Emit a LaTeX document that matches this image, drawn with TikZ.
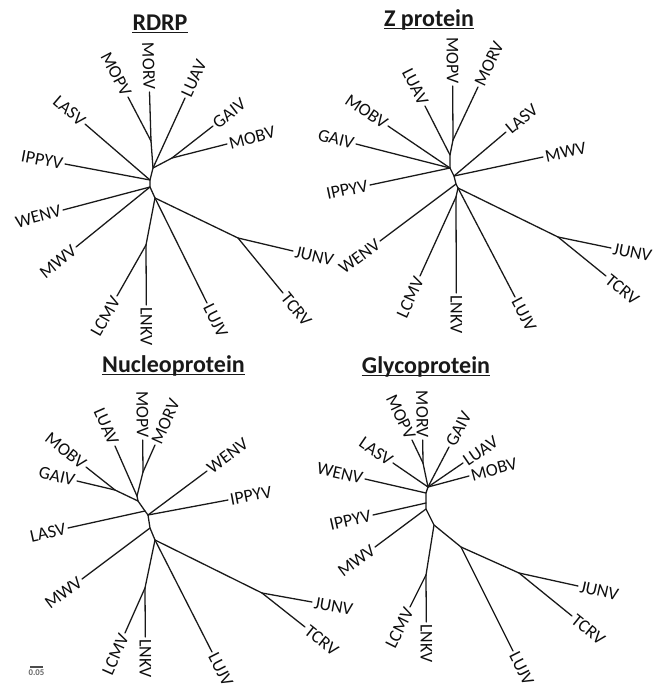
\documentclass[tikz,border=0pt]{standalone}
\usepackage{fontspec}
\setmainfont{Carlito}
\usepackage{tikz}

\newcommand{\labfont}{\fontsize{15.3}{17}\selectfont}
\newcommand{\ttlfont}{\fontsize{20.5}{23}\selectfont\bfseries}

\tikzset{
  branch/.style={line width=1.1pt, line join=round, line cap=round, black!90},
  lab/.style={pos=1, sloped, inner sep=1.5pt, text depth=0pt, font=\labfont, text=black!95},
  labR/.style={lab, anchor=west},
  labL/.style={lab, anchor=east},
  ttl/.style={anchor=base, inner sep=0pt, font=\ttlfont, text=black!90},
  uline/.style={line width=1.1pt, black!90},
}

\begin{document}
\begin{tikzpicture}[x=0.03cm, y=-0.03cm]
\useasboundingbox (0,0) rectangle (653,689);

% RDRP
\node[ttl] (tR) at (160,30) {RDRP};
\draw[uline] ([yshift=-2pt]tR.base west) -- ([yshift=-2pt]tR.base east);
\coordinate (r0) at (151,141);
\coordinate (r1) at (153,168);
\coordinate (rg) at (172,158);
\coordinate (r2) at (150,180);
\coordinate (r3) at (150,187);
\coordinate (r4) at (155,198);
\coordinate (rl) at (146,245);
\coordinate (rj) at (238,238);
\coordinate (rMORV) at (149.5,92);
\coordinate (rMOPV) at (128,97);
\coordinate (rLUAV) at (185,98);
\coordinate (rGAIV) at (213,126);
\coordinate (rMOBV) at (227,144);
\coordinate (rLASV) at (85,124);
\coordinate (rIPPYV) at (65,164);
\coordinate (rWENV) at (63,210);
\coordinate (rMWV) at (76,247);
\coordinate (rLCMV) at (117,296);
\coordinate (rLNKV) at (146.3,305);
\coordinate (rLUJV) at (207,303);
\coordinate (rJUNV) at (293,251);
\coordinate (rTCRV) at (283,293);
\draw[branch] (r0) -- (r1) -- (r2) -- (r3) -- (r4) -- (rl);
\draw[branch] (r1) -- (rg);
\draw[branch] (r4) -- (rj);
\draw[branch] (r0) -- (rMORV) node[labL] (lrMORV) {MORV};
\draw[branch] (r0) -- (rMOPV) node[labL] (lrMOPV) {MOPV};
\draw[branch] (r1) -- (rLUAV) node[labR] (lrLUAV) {LUAV};
\draw[branch] (rg) -- (rGAIV) node[labR] (lrGAIV) {GAIV};
\draw[branch] (rg) -- (rMOBV) node[labR] (lrMOBV) {MOBV};
\draw[branch] (r2) -- (rLASV) node[labL] (lrLASV) {LASV};
\draw[branch] (r2) -- (rIPPYV) node[labL] (lrIPPYV) {IPPYV};
\draw[branch] (r3) -- (rWENV) node[labL] (lrWENV) {WENV};
\draw[branch] (r3) -- (rMWV) node[labL] (lrMWV) {MWV};
\draw[branch] (rl) -- (rLCMV) node[labL] (lrLCMV) {LCMV};
\draw[branch] (rl) -- (rLNKV) node[labR] (lrLNKV) {LNKV};
\draw[branch] (r4) -- (rLUJV) node[labR] (lrLUJV) {LUJV};
\draw[branch] (rj) -- (rJUNV) node[labR] (lrJUNV) {JUNV};
\draw[branch] (rj) -- (rTCRV) node[labR] (lrTCRV) {TCRV};

% Z protein
\node[ttl] (tZ) at (429,26) {Z protein};
\draw[uline] ([yshift=-2pt]tZ.base west) -- ([yshift=-2pt]tZ.base east);
\coordinate (z0) at (453,140);
\coordinate (za) at (450,155);
\coordinate (z1) at (450,168);
\coordinate (z2) at (454,176);
\coordinate (z3) at (456,184);
\coordinate (z4) at (458,188);
\coordinate (zl) at (456,197);
\coordinate (zj) at (558,237);
\coordinate (zMOPV) at (452.7,86);
\coordinate (zMORV) at (478,87);
\coordinate (zLUAV) at (425,106);
\coordinate (zMOBV) at (388,126);
\coordinate (zGAIV) at (356,144);
\coordinate (zIPPYV) at (370,185);
\coordinate (zLASV) at (506,132);
\coordinate (zMWV) at (543,157);
\coordinate (zWENV) at (380,241);
\coordinate (zLCMV) at (420,276);
\coordinate (zLNKV) at (456.3,293);
\coordinate (zLUJV) at (515,297);
\coordinate (zJUNV) at (611,248);
\coordinate (zTCRV) at (606,276);
\draw[branch] (z0) -- (za) -- (z1) -- (z2) -- (z3) -- (z4) -- (zl);
\draw[branch] (z4) -- (zj);
\draw[branch] (z0) -- (zMOPV) node[labL] (lzMOPV) {MOPV};
\draw[branch] (z0) -- (zMORV) node[labR] (lzMORV) {MORV};
\draw[branch] (za) -- (zLUAV) node[labL] (lzLUAV) {LUAV};
\draw[branch] (z1) -- (zMOBV) node[labL] (lzMOBV) {MOBV};
\draw[branch] (z1) -- (zGAIV) node[labL] (lzGAIV) {GAIV};
\draw[branch] (z1) -- (zIPPYV) node[labL] (lzIPPYV) {IPPYV};
\draw[branch] (z2) -- (zLASV) node[labR] (lzLASV) {LASV};
\draw[branch] (z2) -- (zMWV) node[labR] (lzMWV) {MWV};
\draw[branch] (z3) -- (zWENV) node[labL] (lzWENV) {WENV};
\draw[branch] (zl) -- (zLCMV) node[labL] (lzLCMV) {LCMV};
\draw[branch] (zl) -- (zLNKV) node[labR] (lzLNKV) {LNKV};
\draw[branch] (z4) -- (zLUJV) node[labR] (lzLUJV) {LUJV};
\draw[branch] (zj) -- (zJUNV) node[labR] (lzJUNV) {JUNV};
\draw[branch] (zj) -- (zTCRV) node[labR] (lzTCRV) {TCRV};

% Nucleoprotein
\node[ttl] (tN) at (173.5,372) {Nucleoprotein};
\draw[uline] ([yshift=-2pt]tN.base west) -- ([yshift=-2pt]tN.base east);
\coordinate (n0) at (143,472);
\coordinate (n1) at (137,496);
\coordinate (nm) at (115,490);
\coordinate (n2) at (138,501);
\coordinate (n3) at (145,511);
\coordinate (n4) at (148,515);
\coordinate (n5) at (150,528);
\coordinate (n6) at (155,540);
\coordinate (nl) at (145,588);
\coordinate (nj) at (262,593);
\coordinate (nMOPV) at (142.7,440);
\coordinate (nMORV) at (155,445);
\coordinate (nLUAV) at (115,446);
\coordinate (nMOBV) at (86,467);
\coordinate (nGAIV) at (77,481);
\coordinate (nLASV) at (68,528);
\coordinate (nWENV) at (207,471);
\coordinate (nIPPYV) at (228,500);
\coordinate (nMWV) at (82,579);
\coordinate (nLCMV) at (125,633);
\coordinate (nLNKV) at (145.3,637);
\coordinate (nLUJV) at (212,652);
\coordinate (nJUNV) at (312,602);
\coordinate (nTCRV) at (305,627);
\draw[branch] (n0) -- (n1) -- (n2) -- (n3) -- (n4) -- (n5) -- (n6) -- (nl);
\draw[branch] (n2) -- (nm);
\draw[branch] (n6) -- (nj);
\draw[branch] (n0) -- (nMOPV) node[labL] (lnMOPV) {MOPV};
\draw[branch] (n0) -- (nMORV) node[labR] (lnMORV) {MORV};
\draw[branch] (n1) -- (nLUAV) node[labL] (lnLUAV) {LUAV};
\draw[branch] (nm) -- (nMOBV) node[labL] (lnMOBV) {MOBV};
\draw[branch] (nm) -- (nGAIV) node[labL] (lnGAIV) {GAIV};
\draw[branch] (n3) -- (nLASV) node[labL] (lnLASV) {LASV};
\draw[branch] (n4) -- (nWENV) node[labR] (lnWENV) {WENV};
\draw[branch] (n4) -- (nIPPYV) node[labR] (lnIPPYV) {IPPYV};
\draw[branch] (n5) -- (nMWV) node[labL] (lnMWV) {MWV};
\draw[branch] (nl) -- (nLCMV) node[labL] (lnLCMV) {LCMV};
\draw[branch] (nl) -- (nLNKV) node[labR] (lnLNKV) {LNKV};
\draw[branch] (n6) -- (nLUJV) node[labR] (lnLUJV) {LUJV};
\draw[branch] (nj) -- (nJUNV) node[labR] (lnJUNV) {JUNV};
\draw[branch] (nj) -- (nTCRV) node[labR] (lnTCRV) {TCRV};

% Glycoprotein
\node[ttl] (tG) at (426,373) {Glycoprotein};
\draw[uline] ([yshift=-2pt]tG.base west) -- ([yshift=-2pt]tG.base east);
\coordinate (g0) at (423,463);
\coordinate (g1) at (428,487);
\coordinate (g2) at (426,493);
\coordinate (g3) at (426,503);
\coordinate (g4) at (426,509);
\coordinate (g5) at (434,525);
\coordinate (gl) at (426,575);
\coordinate (gx) at (461,547);
\coordinate (gj) at (519,573);
\coordinate (gMORV) at (422.7,440);
\coordinate (gMOPV) at (412,440);
\coordinate (gGAIV) at (449,447);
\coordinate (gLUAV) at (463,463);
\coordinate (gMOBV) at (469,476);
\coordinate (gLASV) at (393,463);
\coordinate (gWENV) at (365,479);
\coordinate (gIPPYV) at (373,515);
\coordinate (gMWV) at (375,547);
\coordinate (gLCMV) at (410,607);
\coordinate (gLNKV) at (426.3,622);
\coordinate (gLUJV) at (513,651);
\coordinate (gJUNV) at (578,586);
\coordinate (gTCRV) at (572,616);
\draw[branch] (g0) -- (g1) -- (g2) -- (g3) -- (g4) -- (g5) -- (gl);
\draw[branch] (g5) -- (gx) -- (gj);
\draw[branch] (g0) -- (gMORV) node[labL] (lgMORV) {MORV};
\draw[branch] (g0) -- (gMOPV) node[labL] (lgMOPV) {MOPV};
\draw[branch] (g1) -- (gGAIV) node[labR] (lgGAIV) {GAIV};
\draw[branch] (g1) -- (gLUAV) node[labR] (lgLUAV) {LUAV};
\draw[branch] (g1) -- (gMOBV) node[labR] (lgMOBV) {MOBV};
\draw[branch] (g1) -- (gLASV) node[labL] (lgLASV) {LASV};
\draw[branch] (g2) -- (gWENV) node[labL] (lgWENV) {WENV};
\draw[branch] (g3) -- (gIPPYV) node[labL] (lgIPPYV) {IPPYV};
\draw[branch] (g4) -- (gMWV) node[labL] (lgMWV) {MWV};
\draw[branch] (gl) -- (gLCMV) node[labL] (lgLCMV) {LCMV};
\draw[branch] (gl) -- (gLNKV) node[labR] (lgLNKV) {LNKV};
\draw[branch] (gx) -- (gLUJV) node[labR] (lgLUJV) {LUJV};
\draw[branch] (gj) -- (gJUNV) node[labR] (lgJUNV) {JUNV};
\draw[branch] (gj) -- (gTCRV) node[labR] (lgTCRV) {TCRV};

% scale bar
\coordinate (s0) at (30,667);
\coordinate (s1) at (43,667);
\draw[line width=1pt, black!70] (s0) -- (s1) node[midway, below=1pt, inner sep=1pt, font=\fontsize{7.5}{9}\selectfont\bfseries, text=black!60] (sLab) {0.05};
\end{tikzpicture}
\end{document}
